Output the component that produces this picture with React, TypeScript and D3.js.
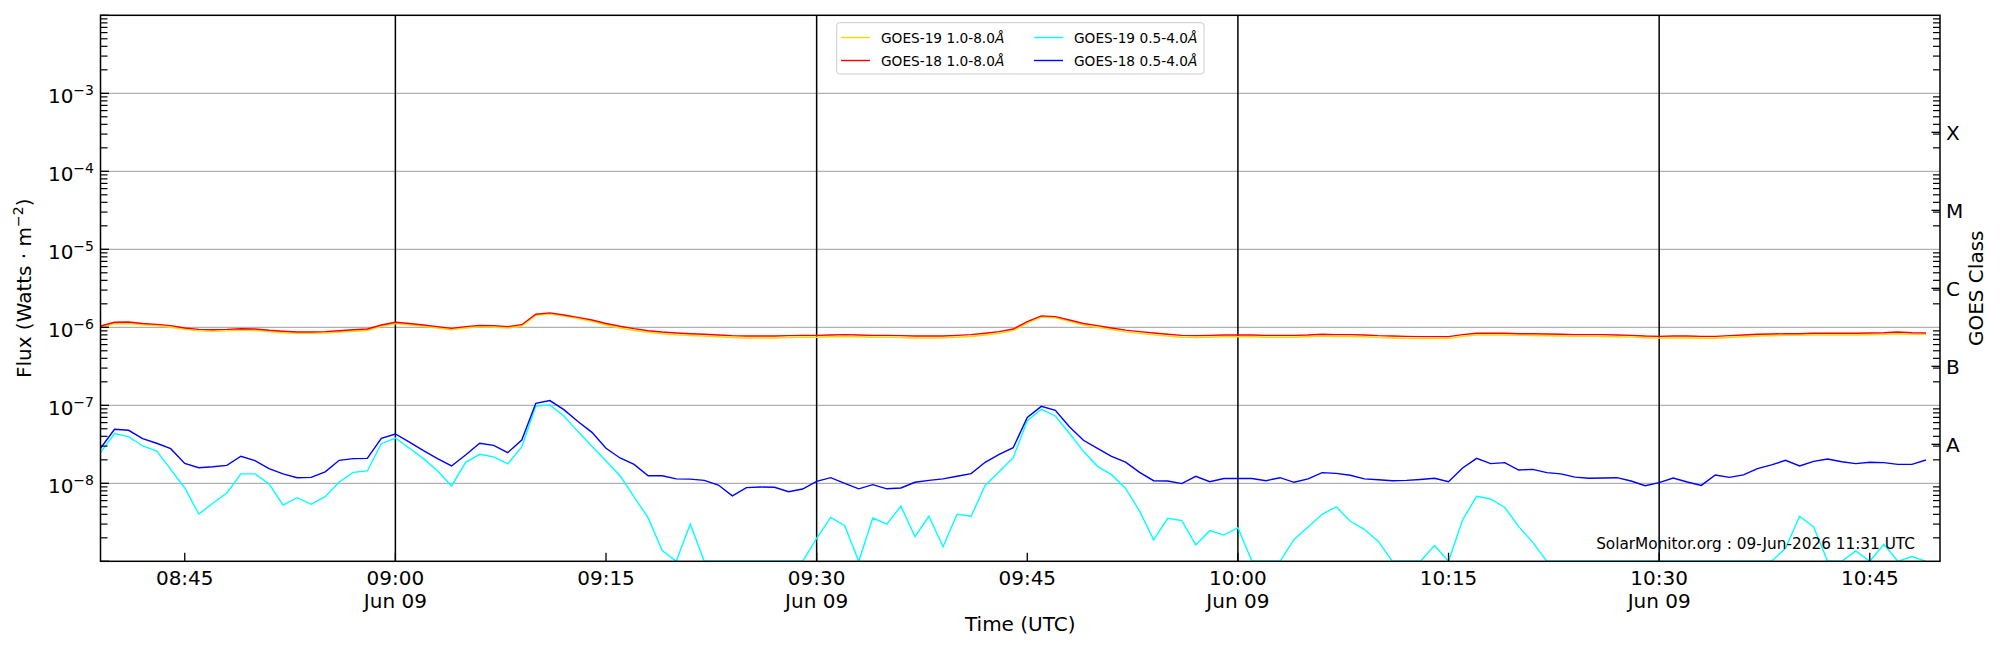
import React from "react";
import * as d3 from "d3";

// ---- data (1-minute cadence, 08:39 .. 10:49 UTC, 09-Jun-2026) ----
const startTime = Date.UTC(2026, 5, 9, 8, 39);
const endTime = Date.UTC(2026, 5, 9, 10, 50);

const goes18Long = [
  1.04e-6, 1.16e-6, 1.17e-6, 1.12e-6, 1.09e-6, 1.05e-6, 9.8e-7, 9.4e-7, 9.3e-7, 9.4e-7,
  9.6e-7, 9.5e-7, 9.15e-7, 8.9e-7, 8.7e-7, 8.7e-7, 8.8e-7, 9.05e-7, 9.3e-7, 9.5e-7,
  1.07e-6, 1.16e-6, 1.12e-6, 1.07e-6, 1.02e-6, 9.7e-7, 1.02e-6, 1.06e-6, 1.05e-6, 1.02e-6,
  1.08e-6, 1.47e-6, 1.53e-6, 1.44e-6, 1.34e-6, 1.24e-6, 1.12e-6, 1.03e-6, 9.6e-7, 9.05e-7,
  8.7e-7, 8.45e-7, 8.28e-7, 8.13e-7, 7.97e-7, 7.81e-7, 7.73e-7, 7.73e-7, 7.73e-7, 7.81e-7,
  7.89e-7, 7.89e-7, 7.97e-7, 8.05e-7, 7.97e-7, 7.89e-7, 7.89e-7, 7.81e-7, 7.73e-7, 7.73e-7,
  7.73e-7, 7.89e-7, 8.05e-7, 8.38e-7, 8.79e-7, 9.5e-7, 1.18e-6, 1.4e-6, 1.37e-6, 1.24e-6,
  1.12e-6, 1.05e-6, 9.8e-7, 9.2e-7, 8.8e-7, 8.45e-7, 8.13e-7, 7.89e-7, 7.81e-7, 7.89e-7,
  7.97e-7, 7.97e-7, 7.97e-7, 7.89e-7, 7.89e-7, 7.89e-7, 7.97e-7, 8.13e-7, 8.05e-7, 8.05e-7,
  7.97e-7, 7.81e-7, 7.73e-7, 7.66e-7, 7.59e-7, 7.59e-7, 7.59e-7, 8.05e-7, 8.4e-7, 8.38e-7,
  8.38e-7, 8.28e-7, 8.28e-7, 8.2e-7, 8.13e-7, 8.05e-7, 8.05e-7, 8.05e-7, 7.97e-7, 7.89e-7,
  7.73e-7, 7.66e-7, 7.73e-7, 7.73e-7, 7.66e-7, 7.66e-7, 7.81e-7, 7.97e-7, 8.13e-7, 8.2e-7,
  8.28e-7, 8.28e-7, 8.38e-7, 8.38e-7, 8.38e-7, 8.38e-7, 8.45e-7, 8.53e-7, 8.7e-7, 8.53e-7,
  8.45e-7,
];

const goes19Long = [
  1.0e-6, 1.11e-6, 1.12e-6, 1.08e-6, 1.05e-6, 1.0e-6, 9.4e-7, 9.0e-7, 8.9e-7, 9.0e-7,
  9.2e-7, 9.1e-7, 8.8e-7, 8.5e-7, 8.35e-7, 8.35e-7, 8.45e-7, 8.7e-7, 8.9e-7, 9.1e-7,
  1.03e-6, 1.12e-6, 1.08e-6, 1.03e-6, 9.8e-7, 9.3e-7, 9.8e-7, 1.02e-6, 1.01e-6, 9.8e-7,
  1.04e-6, 1.42e-6, 1.48e-6, 1.39e-6, 1.29e-6, 1.19e-6, 1.07e-6, 9.8e-7, 9.1e-7, 8.6e-7,
  8.25e-7, 8.0e-7, 7.85e-7, 7.7e-7, 7.55e-7, 7.4e-7, 7.3e-7, 7.3e-7, 7.3e-7, 7.38e-7,
  7.45e-7, 7.47e-7, 7.55e-7, 7.62e-7, 7.55e-7, 7.47e-7, 7.45e-7, 7.38e-7, 7.3e-7, 7.3e-7,
  7.32e-7, 7.45e-7, 7.62e-7, 7.95e-7, 8.35e-7, 9.05e-7, 1.13e-6, 1.35e-6, 1.32e-6, 1.19e-6,
  1.07e-6, 1.0e-6, 9.35e-7, 8.75e-7, 8.35e-7, 8.0e-7, 7.7e-7, 7.47e-7, 7.4e-7, 7.47e-7,
  7.55e-7, 7.55e-7, 7.55e-7, 7.47e-7, 7.47e-7, 7.45e-7, 7.55e-7, 7.7e-7, 7.62e-7, 7.62e-7,
  7.55e-7, 7.38e-7, 7.3e-7, 7.22e-7, 7.15e-7, 7.15e-7, 7.17e-7, 7.65e-7, 7.98e-7, 7.98e-7,
  7.95e-7, 7.88e-7, 7.86e-7, 7.8e-7, 7.72e-7, 7.65e-7, 7.64e-7, 7.62e-7, 7.55e-7, 7.48e-7,
  7.33e-7, 7.26e-7, 7.3e-7, 7.3e-7, 7.24e-7, 7.25e-7, 7.4e-7, 7.56e-7, 7.72e-7, 7.8e-7,
  7.88e-7, 7.88e-7, 7.97e-7, 7.98e-7, 7.97e-7, 7.98e-7, 8.04e-7, 8.12e-7, 8.25e-7, 8.12e-7,
  8.05e-7,
];

const goes18Short = [
  2.81e-8, 4.92e-8, 4.78e-8, 3.73e-8, 3.26e-8, 2.78e-8, 1.8e-8, 1.585e-8, 1.63e-8, 1.7e-8,
  2.22e-8, 1.95e-8, 1.54e-8, 1.32e-8, 1.18e-8, 1.19e-8, 1.4e-8, 1.97e-8, 2.07e-8, 2.09e-8,
  3.78e-8, 4.29e-8, 3.38e-8, 2.62e-8, 2.07e-8, 1.67e-8, 2.31e-8, 3.26e-8, 3.07e-8, 2.47e-8,
  3.59e-8, 1.06e-7, 1.15e-7, 8.8e-8, 6.2e-8, 4.5e-8, 2.81e-8, 2.11e-8, 1.75e-8, 1.25e-8,
  1.25e-8, 1.14e-8, 1.13e-8, 1.09e-8, 9.5e-9, 6.9e-9, 8.8e-9, 8.96e-9, 8.9e-9, 7.8e-9,
  8.45e-9, 1.06e-8, 1.18e-8, 1.0e-8, 8.5e-9, 9.6e-9, 8.5e-9, 8.7e-9, 1.03e-8, 1.09e-8,
  1.14e-8, 1.23e-8, 1.33e-8, 1.86e-8, 2.35e-8, 2.86e-8, 7.0e-8, 9.7e-8, 8.6e-8, 5.3e-8,
  3.56e-8, 2.81e-8, 2.22e-8, 1.87e-8, 1.38e-8, 1.08e-8, 1.07e-8, 9.9e-9, 1.23e-8, 1.05e-8,
  1.15e-8, 1.15e-8, 1.15e-8, 1.08e-8, 1.18e-8, 1.03e-8, 1.14e-8, 1.37e-8, 1.34e-8, 1.27e-8,
  1.14e-8, 1.11e-8, 1.08e-8, 1.09e-8, 1.12e-8, 1.16e-8, 1.05e-8, 1.57e-8, 2.09e-8, 1.79e-8,
  1.84e-8, 1.48e-8, 1.51e-8, 1.37e-8, 1.32e-8, 1.2e-8, 1.16e-8, 1.17e-8, 1.18e-8, 1.07e-8,
  9.3e-9, 1.02e-8, 1.17e-8, 1.04e-8, 9.4e-9, 1.28e-8, 1.19e-8, 1.28e-8, 1.54e-8, 1.72e-8,
  1.97e-8, 1.67e-8, 1.91e-8, 2.05e-8, 1.89e-8, 1.79e-8, 1.86e-8, 1.84e-8, 1.75e-8, 1.75e-8,
  1.99e-8,
];

const goes19Short = [
  2.47e-8, 4.33e-8, 3.96e-8, 3.01e-8, 2.59e-8, 1.51e-8, 8.71e-9, 4.04e-9, 5.54e-9, 7.51e-9,
  1.32e-8, 1.32e-8, 9.8e-9, 5.27e-9, 6.54e-9, 5.38e-9, 6.74e-9, 1.04e-8, 1.38e-8, 1.44e-8,
  3.22e-8, 3.81e-8, 2.81e-8, 2.07e-8, 1.45e-8, 9.24e-9, 1.86e-8, 2.35e-8, 2.18e-8, 1.77e-8,
  2.92e-8, 9.8e-8, 1.01e-7, 7.3e-8, 4.6e-8, 2.98e-8, 1.93e-8, 1.25e-8, 6.7e-9, 3.6e-9,
  1.37e-9, 1.0e-9, 3.0e-9, 1.0e-9, 1.0e-9, 1.0e-9, 1.0e-9, 1.0e-9, 1.0e-9, 1.0e-9,
  1.0e-9, 1.97e-9, 3.66e-9, 2.86e-9, 1.0e-9, 3.59e-9, 3.0e-9, 5.1e-9, 2.07e-9, 3.78e-9,
  1.54e-9, 4.0e-9, 3.78e-9, 9.4e-9, 1.41e-8, 2.13e-8, 6.35e-8, 8.9e-8, 7.3e-8, 4.38e-8,
  2.57e-8, 1.65e-8, 1.29e-8, 8.6e-9, 4.4e-9, 1.88e-9, 3.56e-9, 3.32e-9, 1.62e-9, 2.47e-9,
  2.17e-9, 2.7e-9, 1.0e-9, 1.0e-9, 1.0e-9, 1.91e-9, 2.75e-9, 4.0e-9, 5.0e-9, 3.26e-9,
  2.57e-9, 1.8e-9, 1.0e-9, 1.0e-9, 1.0e-9, 1.59e-9, 1.0e-9, 3.39e-9, 6.8e-9, 6.3e-9,
  4.9e-9, 2.78e-9, 1.75e-9, 1.0e-9, 1.0e-9, 1.0e-9, 1.0e-9, 1.0e-9, 1.0e-9, 1.0e-9,
  1.0e-9, 1.0e-9, 1.0e-9, 1.0e-9, 1.0e-9, 1.0e-9, 1.0e-9, 1.0e-9, 1.0e-9, 1.0e-9,
  1.47e-9, 3.78e-9, 2.75e-9, 1.0e-9, 1.0e-9, 1.36e-9, 1.0e-9, 1.65e-9, 1.0e-9, 1.15e-9,
  1.0e-9,
];

const seriesNames = ["GOES-19 1.0-8.0", "GOES-18 1.0-8.0", "GOES-19 0.5-4.0", "GOES-18 0.5-4.0"];
const seriesColors = ["#ffd700", "#ff0000", "#00ffff", "#0000ff"];
const seriesValues = [goes19Long, goes18Long, goes19Short, goes18Short];

const yDecades = [1e-8, 1e-7, 1e-6, 1e-5, 1e-4, 1e-3];
const yExponents = ["−8", "−7", "−6", "−5", "−4", "−3"];
const classLabels = ["A", "B", "C", "M", "X"];
const classValues = [3.16e-8, 3.16e-7, 3.16e-6, 3.16e-5, 3.16e-4];
const xTickTimes = ["08:45", "09:00", "09:15", "09:30", "09:45", "10:00", "10:15", "10:30", "10:45"];
const dateLines = ["09:00", "09:30", "10:00", "10:30"];
const dateLabel = "Jun 09";
const annotation = "SolarMonitor.org : 09-Jun-2026 11:31 UTC";

// ---- layout ----
const W = 2000;
const H = 650;
const L = 100.5;
const R = 1940;
const T = 15.3;
const B = 561.3;
const FONT = "DejaVu Sans, sans-serif";

const toDate = (hm: string) => {
  const [h, m] = hm.split(":").map(Number);
  return new Date(Date.UTC(2026, 5, 9, h, m));
};

export default function App() {
  const x = d3.scaleUtc().domain([new Date(startTime), new Date(endTime)]).range([L, R]);
  const y = d3.scaleLog().domain([1e-9, 1e-2]).range([B, T]);
  const times = d3.range(goes18Long.length).map((i) => new Date(startTime + i * 60000));

  const line = (vals: number[]) =>
    d3
      .line<number>()
      .x((_, i) => x(times[i]))
      .y((v) => y(v))(vals) || "";

  const minorTicks: number[] = [];
  for (let e = -9; e < -2; e++) {
    for (let k = 2; k <= 9; k++) minorTicks.push(k * Math.pow(10, e));
  }
  const allDecades = [1e-9, ...yDecades, 1e-2];

  return (
    <svg
      width={W}
      height={H}
      style={{ position: "absolute", left: 0, top: 0, background: "#fff" }}
      fontFamily={FONT}
    >
      <rect x={0} y={0} width={W} height={H} fill="#fff" />
      <defs>
        <clipPath id="plotclip">
          <rect x={L} y={T} width={R - L} height={B - T} />
        </clipPath>
      </defs>

      {/* horizontal grid */}
      {yDecades.map((v) => (
        <line key={"g" + v} x1={L} x2={R} y1={y(v)} y2={y(v)} stroke="#b0b0b0" strokeWidth={1.3} />
      ))}
      {/* vertical day/half-hour lines */}
      {dateLines.map((t) => (
        <line key={"v" + t} x1={x(toDate(t))} x2={x(toDate(t))} y1={T} y2={B} stroke="#000" strokeWidth={1.5} />
      ))}

      {/* data */}
      <g clipPath="url(#plotclip)">
        {seriesValues.map((vals, i) => (
          <path key={seriesNames[i]} d={line(vals)} fill="none" stroke={seriesColors[i]} strokeWidth={1.4} />
        ))}
      </g>

      {/* ticks: left & right minor */}
      {minorTicks.map((v) => (
        <g key={"m" + v}>
          <line x1={L} x2={L + 7} y1={y(v)} y2={y(v)} stroke="#000" strokeWidth={1.2} />
          <line x1={R - 7} x2={R} y1={y(v)} y2={y(v)} stroke="#000" strokeWidth={1.2} />
        </g>
      ))}
      {allDecades.map((v) => (
        <line key={"M" + v} x1={L} x2={L + 8.5} y1={y(v)} y2={y(v)} stroke="#000" strokeWidth={1.3} />
      ))}
      {classValues.map((v) => (
        <line key={"c" + v} x1={R - 8.5} x2={R} y1={y(v)} y2={y(v)} stroke="#000" strokeWidth={1.3} />
      ))}
      {xTickTimes.map((t) => (
        <line key={"xt" + t} x1={x(toDate(t))} x2={x(toDate(t))} y1={B} y2={B - 8.5} stroke="#000" strokeWidth={1.3} />
      ))}

      {/* frame */}
      <rect x={L} y={T} width={R - L} height={B - T} fill="none" stroke="#000" strokeWidth={1.5} />

      {/* y tick labels */}
      {yDecades.map((v, i) => (
        <text key={"yl" + v} x={94} y={y(v) + 10} textAnchor="end" fontSize={20} fill="#000">
          <tspan>10</tspan>
          <tspan fontSize={14} dy={-8.5}>
            {yExponents[i]}
          </tspan>
        </text>
      ))}

      {/* class labels */}
      {classLabels.map((c, i) => (
        <text key={"cl" + c} x={1946} y={y(classValues[i]) + 7.3} fontSize={20} fill="#000">
          {c}
        </text>
      ))}

      {/* x tick labels */}
      {xTickTimes.map((t) => (
        <g key={"xl" + t}>
          <text x={x(toDate(t))} y={584.5} textAnchor="middle" fontSize={20} fill="#000">
            {t}
          </text>
          {dateLines.includes(t) && (
            <text x={x(toDate(t))} y={607.5} textAnchor="middle" fontSize={20} fill="#000">
              {dateLabel}
            </text>
          )}
        </g>
      ))}

      {/* axis labels */}
      <text x={(L + R) / 2} y={631} textAnchor="middle" fontSize={20} fill="#000">
        Time (UTC)
      </text>
      <text transform={`translate(31,${(T + B) / 2}) rotate(-90)`} textAnchor="middle" fontSize={20} fill="#000">
        <tspan>Flux (Watts · m</tspan>
        <tspan fontSize={14} dy={-8.5}>−2</tspan>
        <tspan dy={8.5}>)</tspan>
      </text>
      <text transform={`translate(1983,${(T + B) / 2}) rotate(-90)`} textAnchor="middle" fontSize={20} fill="#000">
        GOES Class
      </text>

      {/* annotation */}
      <text x={1915} y={548.5} textAnchor="end" fontSize={15.3} fill="#000">
        {annotation}
      </text>

      {/* legend */}
      <rect x={836.7} y={22.7} width={367.3} height={51.3} rx={3} fill="#fff" fillOpacity={0.8} stroke="#cccccc" strokeWidth={1} />
      {seriesNames.map((n, i) => {
        const col = Math.floor(i / 2);
        const row = i % 2;
        const lx = col === 0 ? 841 : 1034;
        const cy = row === 0 ? 37.5 : 60.5;
        return (
          <g key={"lg" + n}>
            <line x1={lx} x2={lx + 29} y1={cy} y2={cy} stroke={seriesColors[i]} strokeWidth={1.4} />
            <text x={lx + 40} y={cy + 5} fontSize={13.7} fill="#000">
              {n}
              <tspan fontStyle="italic">Å</tspan>
            </text>
          </g>
        );
      })}
    </svg>
  );
}
